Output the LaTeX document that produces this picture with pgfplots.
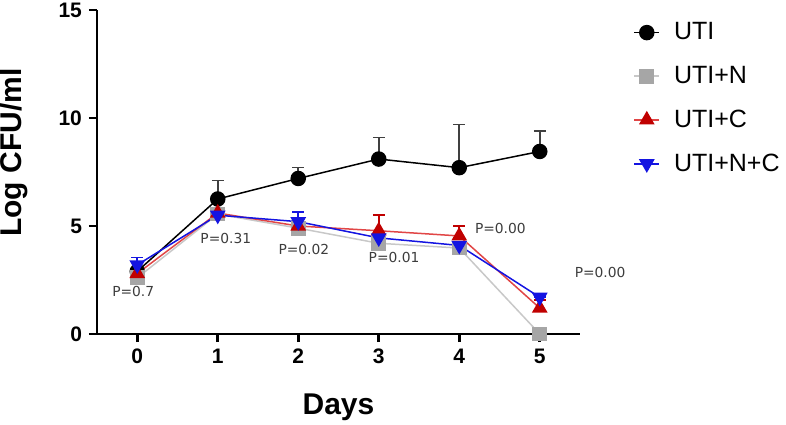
\documentclass[border=0pt]{standalone}
\usepackage{fontspec}
\setmainfont{Liberation Sans}
\newfontfamily\pfont{DejaVu Sans}
\usepackage{pgfplots}
\pgfplotsset{compat=1.18}

\definecolor{utiN}{RGB}{166,166,166}
\definecolor{utiNline}{RGB}{200,200,200}
\definecolor{utiC}{RGB}{192,0,0}
\definecolor{utiCline}{RGB}{225,70,70}
\definecolor{utiNC}{RGB}{20,20,225}
\definecolor{ptext}{RGB}{60,60,60}

\begin{document}
\begin{tikzpicture}
\begin{axis}[
    scale only axis,
    width=241.5pt, height=162pt,
    xmin=-0.5, xmax=5.5,
    ymin=0, ymax=15,
    xtick={0,1,2,3,4,5},
    ytick={0,5,10,15},
    axis lines=left,
    axis line style={-, line width=1.3pt},
    tick style={line width=1.3pt, black},
    tick align=outside,
    major tick length=4pt,
    tick label style={font=\bfseries\fontsize{10.5}{12}\selectfont},
    /pgf/number format/assume math mode=true,
    clip=false,
    xlabel={Days},
    ylabel={Log CFU/ml},
    xlabel style={font=\bfseries\fontsize{15}{16}\selectfont, at={(axis description cs:0.5,-0.247)}, anchor=base},
    ylabel style={font=\bfseries\fontsize{15}{16}\selectfont, at={(axis description cs:-0.172,0.56)}, anchor=center},
    legend style={draw=none, at={(axis description cs:1.11,0.975)}, anchor=north west,
        font=\fontsize{12.5}{14}\selectfont, row sep=7.7pt, inner sep=0pt,
        /tikz/every odd column/.append style={column sep=5pt}},
    legend cell align=left,
    legend image code/.code={\draw[mark repeat=2,mark phase=2] plot coordinates {(0cm,0cm) (0.22cm,0cm) (0.44cm,0cm)};},
    error bars/y dir=plus,
    error bars/y explicit,
    error bars/error mark options={rotate=90, mark size=3pt, line width=0.8pt},
]
\coordinate (O) at (rel axis cs:0,0);

\addplot[black, line width=0.75pt, mark=*, mark size=3.5pt,
    error bars/error bar style={line width=0.8pt, black!75}]
  coordinates {(0,2.9) +- (0,0.1) (1,6.25) +- (0,0.85) (2,7.2) +- (0,0.5) (3,8.1) +- (0,1.0) (4,7.7) +- (0,2.0) (5,8.45) +- (0,0.95)};
\addlegendentry{UTI}

\addplot[utiNline, line width=0.75pt, mark=square*, mark size=3.3pt, mark options={utiN, fill=utiN}]
  coordinates {(0,2.6) (1,5.55) (2,4.9) (3,4.2) (4,3.98) (5,0)};
\addlegendentry{UTI+N}

\addplot[utiCline, line width=0.75pt, mark=triangle*, mark size=3.8pt, mark options={utiC, fill=utiC},
    error bars/error bar style={line width=0.8pt, utiC}]
  coordinates {(0,2.8) +- (0,0) (1,5.6) +- (0,0) (2,5.0) +- (0,0) (3,4.78) +- (0,0.72) (4,4.54) +- (0,0.46) (5,1.2) +- (0,0.37)};
\addlegendentry{UTI+C}

\addplot[utiNC, line width=0.75pt, mark=triangle*, mark size=3.8pt, mark options={utiNC, fill=utiNC, rotate=180},
    error bars/error bar style={line width=0.8pt, utiNC}]
  coordinates {(0,3.2) +- (0,0.35) (1,5.5) +- (0,0) (2,5.2) +- (0,0.45) (3,4.45) +- (0,0) (4,4.1) +- (0,0) (5,1.7) +- (0,0)};
\addlegendentry{UTI+N+C}

\node[font=\pfont\fontsize{6.9}{8}\selectfont, text=ptext] at (axis cs:-0.05,1.95) {P=0.7};
\node[font=\pfont\fontsize{6.9}{8}\selectfont, text=ptext] at (axis cs:1.1,4.44) {P=0.31};
\node[font=\pfont\fontsize{6.9}{8}\selectfont, text=ptext] at (axis cs:2.07,3.93) {P=0.02};
\node[font=\pfont\fontsize{6.9}{8}\selectfont, text=ptext] at (axis cs:3.19,3.52) {P=0.01};
\node[font=\pfont\fontsize{6.9}{8}\selectfont, text=ptext] at (axis cs:4.51,4.9) {P=0.00};
\node[font=\pfont\fontsize{6.9}{8}\selectfont, text=ptext] at (axis cs:5.75,2.87) {P=0.00};
\end{axis}
\pgfresetboundingbox
\path (O) ++(-48.5pt,-45pt) rectangle ++(393pt,212pt);
\end{tikzpicture}
\end{document}
